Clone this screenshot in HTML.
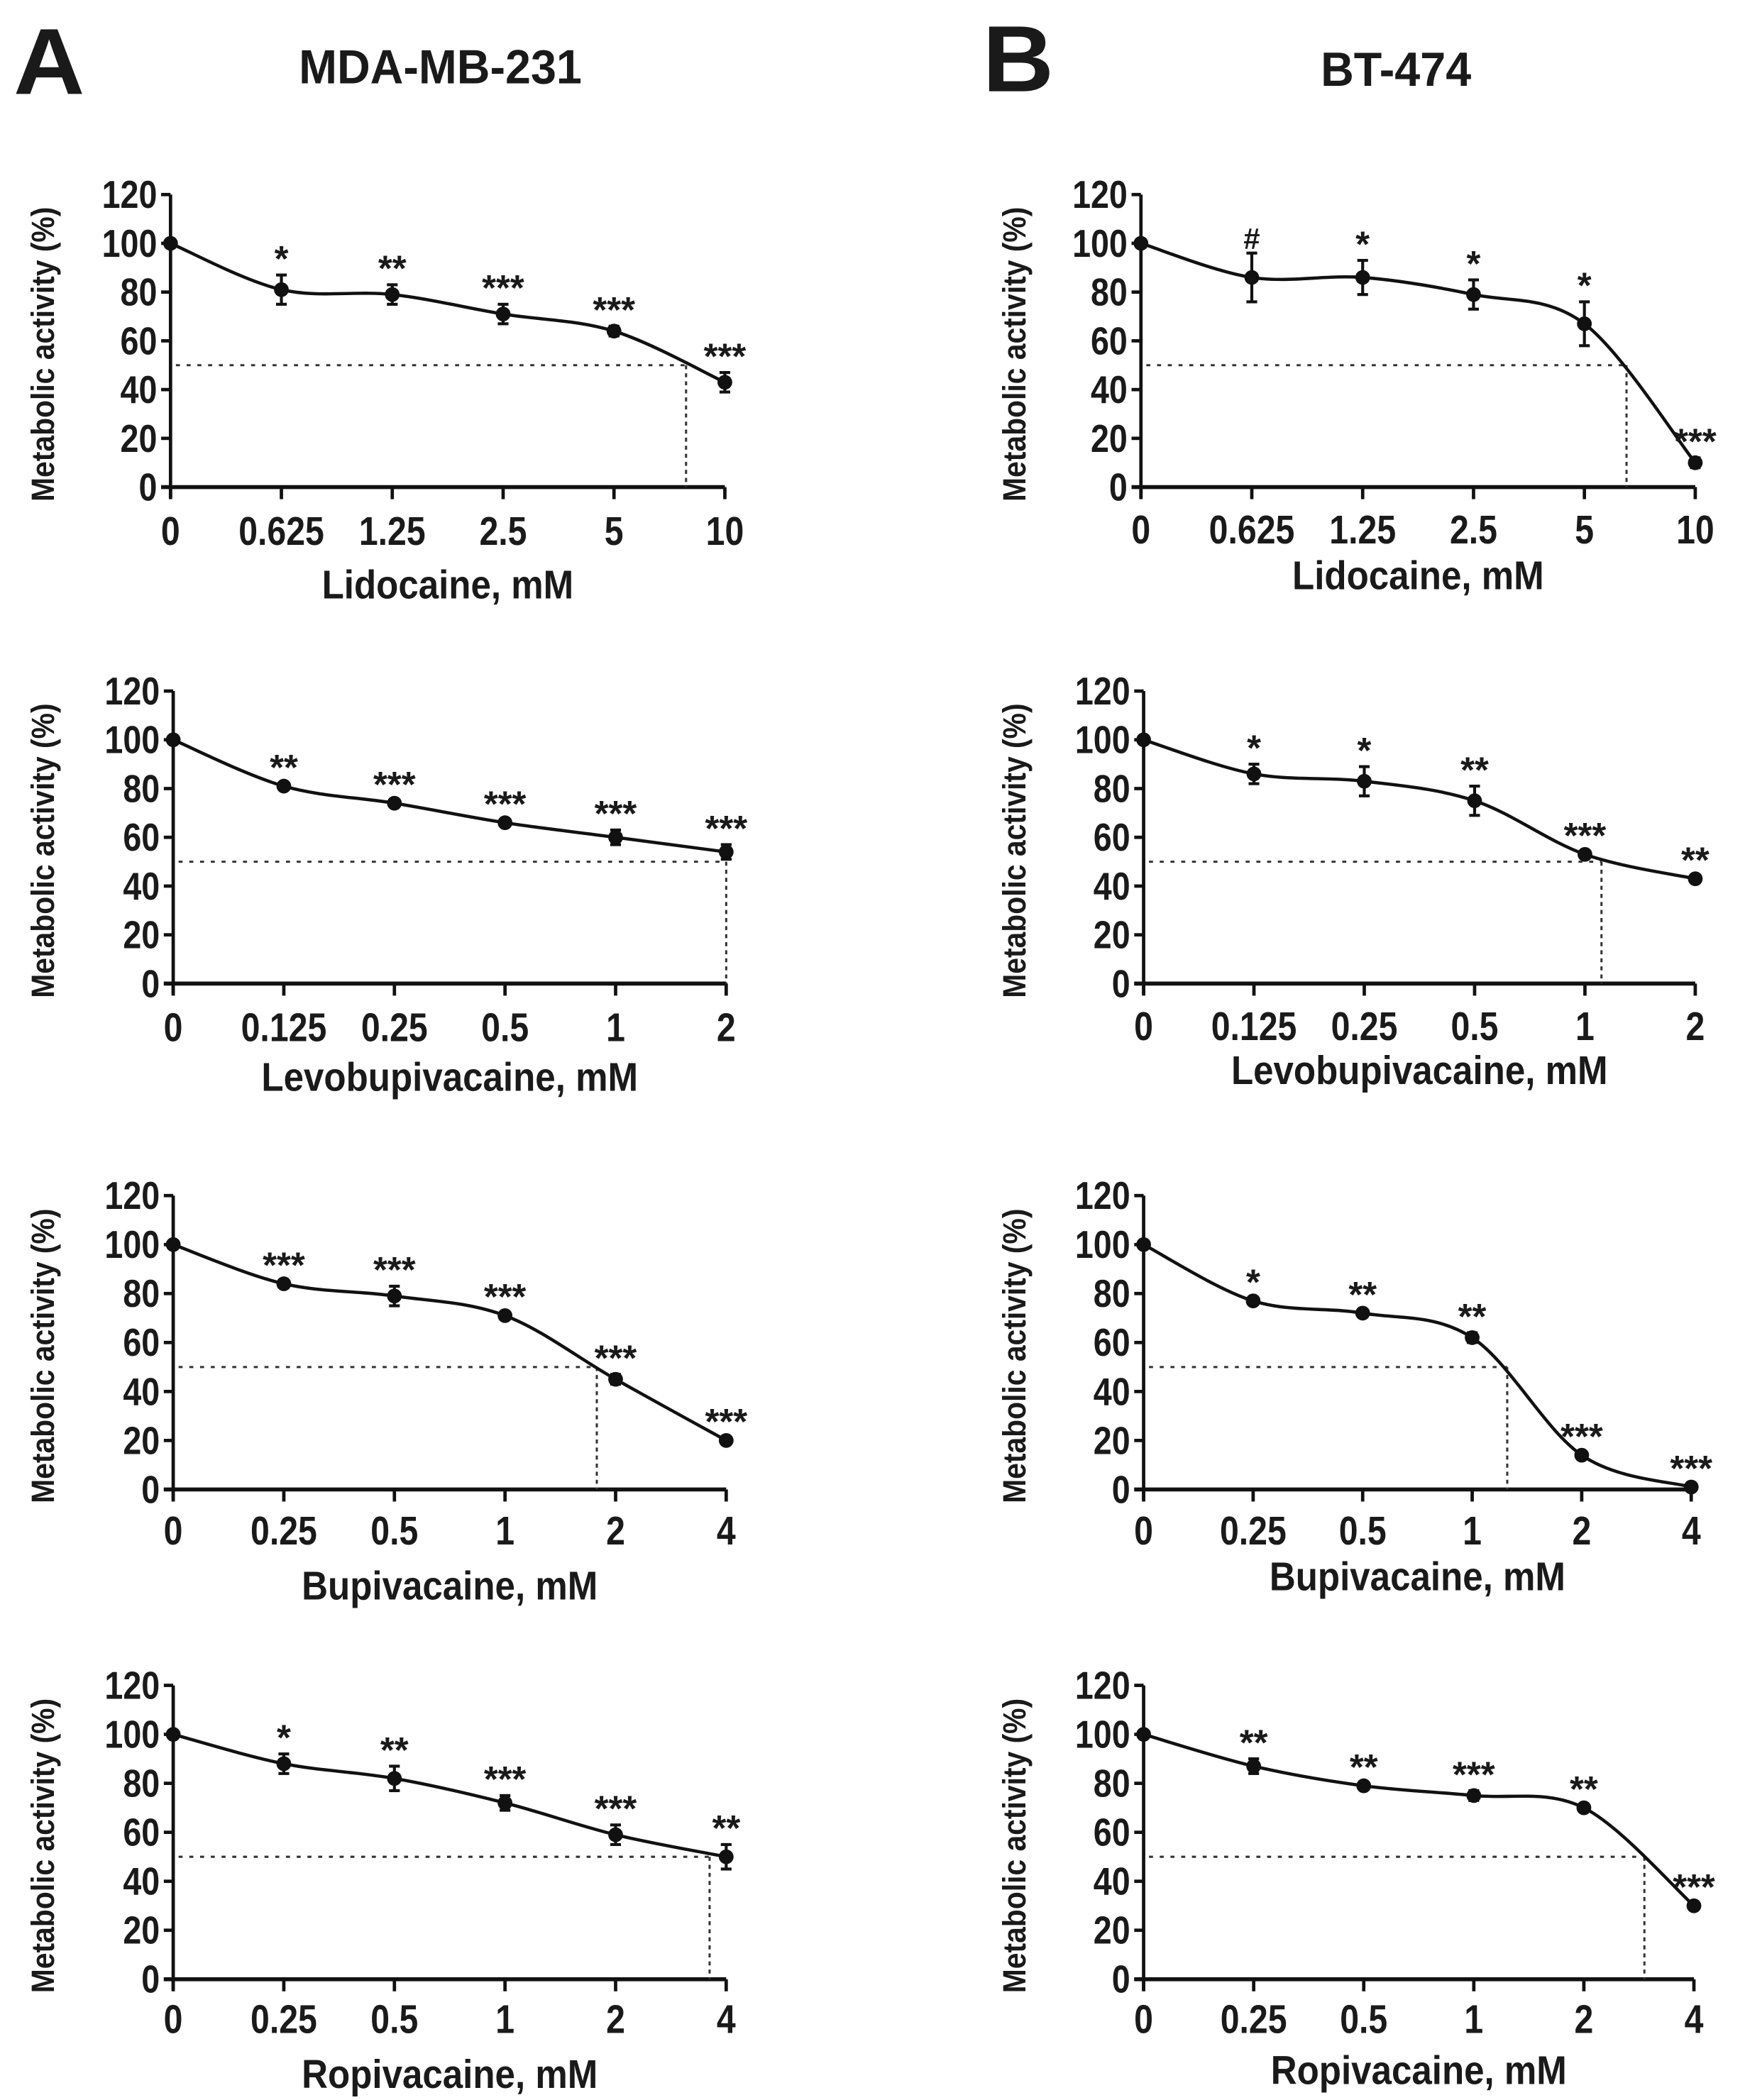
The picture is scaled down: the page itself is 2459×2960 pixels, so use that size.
<!DOCTYPE html>
<html><head><meta charset="utf-8"><title>Metabolic activity dose-response</title>
<style>
html,body{margin:0;padding:0;background:#fff;}
svg{display:block;}
text{font-family:"Liberation Sans",sans-serif;font-weight:bold;fill:#1a1a1a;}
</style></head>
<body>
<svg id="fig" width="2459" height="2960" viewBox="0 0 1300 1565" xmlns="http://www.w3.org/2000/svg">
<text transform="translate(10,70) scale(1.05,1)" font-size="70" style="font-weight:bold">A</text>
<text transform="translate(328,62) scale(0.95,1)" font-size="36" text-anchor="middle">MDA-MB-231</text>
<text transform="translate(732,68) scale(1.05,1)" font-size="70" style="font-weight:bold">B</text>
<text transform="translate(1040,64) scale(0.95,1)" font-size="36" text-anchor="middle">BT-474</text>
</svg>
<script>
// ---- data ----
const lidoCats = ["0","0.625","1.25","2.5","5","10"];
const levoCats = ["0","0.125","0.25","0.5","1","2"];
const bupiCats = ["0","0.25","0.5","1","2","4"];
const ropiCats = ["0","0.25","0.5","1","2","4"];
const yTicks = [0,20,40,60,80,100,120];

const a1Vals = [100,81,79,71,64,43];  const a1Err = [0,6,4,4,2,4];
const a1Stars = ["","*","**","***","***","***"]; const a1Ic50 = 4.65;
const a2Vals = [100,81,74,66,60,54];  const a2Err = [0,1,1,1,3,3];
const a2Stars = ["","**","***","***","***","***"]; const a2Ic50 = 5.0;
const a3Vals = [100,84,79,71,45,20];  const a3Err = [0,1,4,1,2,1];
const a3Stars = ["","***","***","***","***","***"]; const a3Ic50 = 3.83;
const a4Vals = [100,88,82,72,59,50];  const a4Err = [0,4,5,3,4,5];
const a4Stars = ["","*","**","***","***","**"]; const a4Ic50 = 4.85;

const b1Vals = [100,86,86,79,67,10];  const b1Err = [0,10,7,6,9,2];
const b1Stars = ["","#","*","*","*","***"]; const b1Ic50 = 4.38;
const b2Vals = [100,86,83,75,53,43];  const b2Err = [0,4,6,6,1,1];
const b2Stars = ["","*","*","**","***","**"]; const b2Ic50 = 4.15;
const b3Vals = [100,77,72,62,14,1];   const b3Err = [0,1,1,2,1,1];
const b3Stars = ["","*","**","**","***","***"]; const b3Ic50 = 3.32;
const b4Vals = [100,87,79,75,70,30];  const b4Err = [0,3,1,2,1,1];
const b4Stars = ["","**","**","***","**","***"]; const b4Ic50 = 4.55;

const NS = "http://www.w3.org/2000/svg";
const svg = document.getElementById("fig");
function mk(tag, attrs, parent){
  const e = document.createElementNS(NS, tag);
  for (const k in attrs) e.setAttribute(k, attrs[k]);
  (parent||svg).appendChild(e); return e;
}
function ntext(parent, x, y, size, anchor, str, sx, rot){
  const t = mk("text",{x:0,y:0,"font-size":size,"text-anchor":anchor,
    transform:"translate("+x+","+y+")"+(rot?" rotate("+rot+")":"")+" scale("+sx+",1)"},parent);
  t.textContent = str; return t;
}
function catmull(pts){
  let d = "M"+pts[0][0]+","+pts[0][1];
  for(let i=0;i<pts.length-1;i++){
    const p0=pts[i-1]||pts[i], p1=pts[i], p2=pts[i+1], p3=pts[i+2]||p2;
    const c1=[p1[0]+(p2[0]-p0[0])/6, p1[1]+(p2[1]-p0[1])/6];
    const c2=[p2[0]-(p3[0]-p1[0])/6, p2[1]-(p3[1]-p1[1])/6];
    d+=" C"+c1[0]+","+c1[1]+" "+c2[0]+","+c2[1]+" "+p2[0]+","+p2[1];
  }
  return d;
}
function panel(id, L, R, yTop, yBot, cats, vals, errs, stars, ic50, xTitle, tickY, titleY, ylabX){
  const g = mk("g",{});
  
  
  const xs = i => L + (R-L)*i/(cats.length-1);
  const ys = v => yBot - (yBot-yTop)*v/120;
  const ya = mk("line",{x1:L,y1:yTop,x2:L,y2:yBot+8,stroke:"#111","stroke-width":2.5},g);
  
  
  const xa = mk("line",{x1:L-7,y1:yBot,x2:R,y2:yBot,stroke:"#111","stroke-width":3},g);
  
  
  yTicks.forEach(t=>{
    mk("line",{x1:L-7,y1:ys(t),x2:L,y2:ys(t),stroke:"#111","stroke-width":2.5},g);
    const tx = ntext(g, L-10, ys(t)+10, 29, "end", String(t), 0.85);
    
    
  });
  cats.forEach((c,i)=>{
    mk("line",{x1:xs(i),y1:yBot,x2:xs(i),y2:yBot+9,stroke:"#111","stroke-width":2.5},g);
    const tx = ntext(g, xs(i), tickY, 30, "middle", c, 0.85);
    
    
  });
  const yl = ntext(g, ylabX, (yTop+yBot)/2+10, 24, "middle", "Metabolic activity (%)", 0.9, -90);
  
  
  const xt = ntext(g, (L+R)/2, titleY, 30, "middle", xTitle, 0.9);
  
  
  const icx = L + (R-L)*ic50/(cats.length-1);
  const h = mk("line",{x1:L+4,y1:ys(50),x2:icx,y2:ys(50),stroke:"#333","stroke-width":1.6,"stroke-dasharray":"3,5"},g);
  
  
  const v = mk("line",{x1:icx,y1:ys(50),x2:icx,y2:yBot,stroke:"#333","stroke-width":1.6,"stroke-dasharray":"3,3"},g);
  
  
  const pts = vals.map((val,i)=>[xs(i),ys(val)]);
  const cv = mk("path",{d:catmull(pts),fill:"none",stroke:"#111","stroke-width":2.4},g);
  
  
  vals.forEach((val,i)=>{
    const x=xs(i), y=ys(val), e=errs[i];
    if(e>0){
      mk("line",{x1:x,y1:ys(val+e),x2:x,y2:ys(val-e),stroke:"#111","stroke-width":2.2},g);
      mk("line",{x1:x-4,y1:ys(val+e),x2:x+4,y2:ys(val+e),stroke:"#111","stroke-width":2.2},g);
      mk("line",{x1:x-4,y1:ys(val-e),x2:x+4,y2:ys(val-e),stroke:"#111","stroke-width":2.2},g);
    }
    const p = mk("circle",{cx:x,cy:y,r:5.5,fill:"#111"},g);
    
    
    if(stars[i]){
      const s = mk("text",{x:x,y:ys(val+e)-3,"font-size":stars[i]==="#"?22:27,"text-anchor":"middle"},g);
      s.textContent = stars[i];
      
      
    }
  });
}
panel("a-lidocaine",127,540,145,363,lidoCats,a1Vals,a1Err,a1Stars,a1Ic50,"Lidocaine, mM",406,446,40);
panel("a-levobupivacaine",129,541,515,733,levoCats,a2Vals,a2Err,a2Stars,a2Ic50,"Levobupivacaine, mM",776,813,40);
panel("a-bupivacaine",129,541,891,1110,bupiCats,a3Vals,a3Err,a3Stars,a3Ic50,"Bupivacaine, mM",1151,1192,40);
panel("a-ropivacaine",129,541,1256,1475,ropiCats,a4Vals,a4Err,a4Stars,a4Ic50,"Ropivacaine, mM",1515,1556,40);
panel("b-lidocaine",850,1263,145,363,lidoCats,b1Vals,b1Err,b1Stars,b1Ic50,"Lidocaine, mM",405,439,764);
panel("b-levobupivacaine",852,1263,515,733,levoCats,b2Vals,b2Err,b2Stars,b2Ic50,"Levobupivacaine, mM",775,808,764);
panel("b-bupivacaine",852,1260,891,1110,bupiCats,b3Vals,b3Err,b3Stars,b3Ic50,"Bupivacaine, mM",1151,1185,764);
panel("b-ropivacaine",852,1262,1256,1475,ropiCats,b4Vals,b4Err,b4Stars,b4Ic50,"Ropivacaine, mM",1515,1553,764);
</script>
</body></html>
